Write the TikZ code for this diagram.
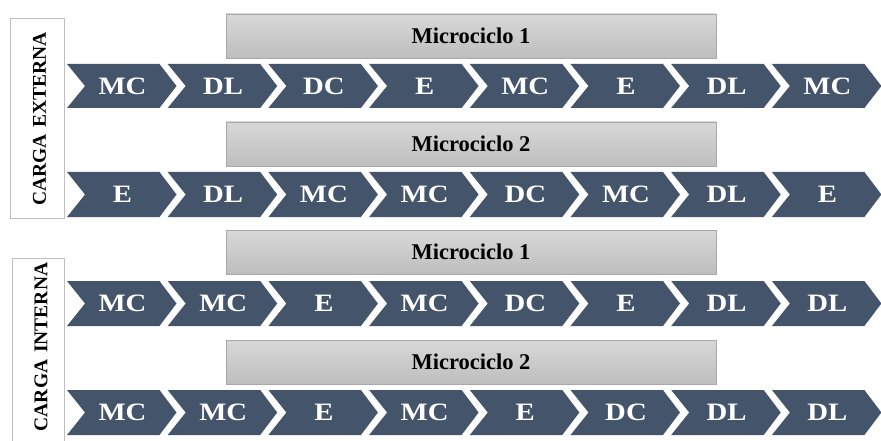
\documentclass[tikz,border=0pt]{standalone}
\usepackage{fontspec}
\setmainfont{Liberation Serif}
\definecolor{chevblue}{HTML}{44546A}
\definecolor{boxtop}{HTML}{D8D8D8}
\definecolor{boxbot}{HTML}{BEBEBE}
\definecolor{boxline}{HTML}{A8A8A8}
\definecolor{sideline}{HTML}{BFBFBF}
\begin{document}
\begin{tikzpicture}[x=1pt,y=-1pt,
  chev/.style={fill=chevblue},
  chevtext/.style={text=white,inner sep=0pt,xscale=1.15,
    font=\fontsize{25}{25}\selectfont\bfseries},
  microbox/.style={draw=boxline,line width=0.6pt,top color=boxtop,bottom color=boxbot,
    minimum width=490pt,minimum height=44pt,inner sep=0pt,
    font=\fontsize{22.5}{23}\selectfont\bfseries},
  sidebox/.style={draw=sideline,line width=0.8pt,fill=white,inner sep=0pt},
  sidetext/.style={rotate=90,inner sep=0pt,font=\fontsize{19.5}{20}\selectfont\bfseries}]
\useasboundingbox (0,0) rectangle (881,441);
\clip (0,0) rectangle (881,441);
\fill[white] (0,0) rectangle (881,441);

% side boxes
\node[sidebox,minimum width=54pt,minimum height=200pt] (extbox) at (37,118) {};
\node[sidetext] (exttext) at (39.5,119) {CARGA\hspace{7pt}EXTERNA};
\node[sidebox,minimum width=52pt,minimum height=200pt] (intbox) at (38,358) {};
\node[sidetext] (inttext) at (41,347) {CARGA\hspace{7pt}INTERNA};

% microciclo boxes
\node[microbox] (m1) at (471,36) {Microciclo 1};
\node[microbox] (m2) at (471,144) {Microciclo 2};
\node[microbox] (m3) at (471,252) {Microciclo 1};
\node[microbox] (m4) at (471,362) {Microciclo 2};

% chevron rows
\foreach \r/\top/\bot/\labels in {
  1/64/108/{MC,DL,DC,E,MC,E,DL,MC},
  2/172/217/{E,DL,MC,MC,DC,MC,DL,E},
  3/281/326/{MC,MC,E,MC,DC,E,DL,DL},
  4/390/435/{MC,MC,E,MC,E,DC,DL,DL}}{
  \foreach \t [count=\i from 0] in \labels {
    \pgfmathsetmacro{\L}{67+100.7*\i}
    \pgfmathsetmacro{\R}{\L+92.5}
    \pgfmathsetmacro{\T}{\R+17}
    \pgfmathsetmacro{\N}{\L+18}
    \pgfmathsetmacro{\M}{(\top+\bot)/2}
    \pgfmathsetmacro{\C}{\L+55.5}
    \fill[chev] (\L,\top) -- (\R,\top) -- (\T,\M) -- (\R,\bot) -- (\L,\bot) -- (\N,\M) -- cycle;
    \node[chevtext] (c\r-\i) at (\C,\M) {\t};
  }
}
\end{tikzpicture}
\end{document}
